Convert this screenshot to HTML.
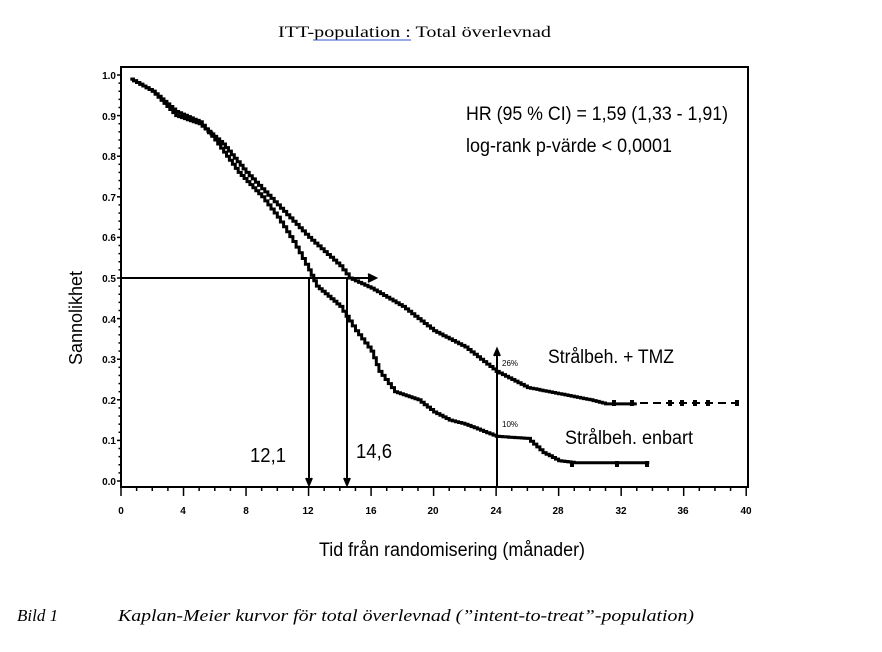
<!DOCTYPE html>
<html><head><meta charset="utf-8"><style>
body{margin:0;background:#fff;width:882px;height:647px;overflow:hidden}
</style></head><body>
<svg id="s" width="882" height="647" xmlns="http://www.w3.org/2000/svg">
<text x="278" y="37" font-family="Liberation Serif" font-size="16" textLength="273" lengthAdjust="spacingAndGlyphs">ITT-population : Total överlevnad</text>
<line x1="313" y1="40" x2="411" y2="40" stroke="#3355cc" stroke-width="1"/>
<rect x="121" y="67" width="627" height="420" fill="none" stroke="#000" stroke-width="2"/>
<g font-family="Liberation Sans" font-size="10" font-weight="bold" text-anchor="end">
<text x="116" y="79">1.0</text><text x="116" y="120">0.9</text><text x="116" y="160">0.8</text><text x="116" y="201">0.7</text><text x="116" y="241">0.6</text><text x="116" y="282">0.5</text><text x="116" y="323">0.4</text><text x="116" y="363">0.3</text><text x="116" y="404">0.2</text><text x="116" y="444">0.1</text><text x="116" y="485">0.0</text>
</g>
<g id="ticks" stroke="#000" stroke-width="1.5"></g>
<g font-family="Liberation Sans" font-size="10" font-weight="bold" text-anchor="middle">
<text x="121" y="514">0</text><text x="183" y="514">4</text><text x="246" y="514">8</text><text x="308" y="514">12</text><text x="371" y="514">16</text><text x="433" y="514">20</text><text x="496" y="514">24</text><text x="558" y="514">28</text><text x="621" y="514">32</text><text x="683" y="514">36</text><text x="746" y="514">40</text>
</g>
<text x="319" y="556" font-family="Liberation Sans" font-size="19" textLength="266" lengthAdjust="spacingAndGlyphs">Tid från randomisering (månader)</text>
<text transform="translate(82,318) rotate(-90)" font-family="Liberation Sans" font-size="18" text-anchor="middle">Sannolikhet</text>
<text x="466" y="120" font-family="Liberation Sans" font-size="19" textLength="262" lengthAdjust="spacingAndGlyphs">HR (95 % CI) = 1,59 (1,33 - 1,91)</text>
<text x="466" y="152" font-family="Liberation Sans" font-size="19" textLength="206" lengthAdjust="spacingAndGlyphs">log-rank p-värde &lt; 0,0001</text>
<text x="548" y="363" font-family="Liberation Sans" font-size="19" textLength="126" lengthAdjust="spacingAndGlyphs">Strålbeh. + TMZ</text>
<text x="565" y="444" font-family="Liberation Sans" font-size="19" textLength="128" lengthAdjust="spacingAndGlyphs">Strålbeh. enbart</text>
<text x="250" y="462" font-family="Liberation Sans" font-size="20" textLength="36" lengthAdjust="spacingAndGlyphs">12,1</text>
<text x="356" y="458" font-family="Liberation Sans" font-size="20" textLength="36" lengthAdjust="spacingAndGlyphs">14,6</text>
<text x="502" y="366" font-family="Liberation Sans" font-size="8">26%</text>
<text x="502" y="427" font-family="Liberation Sans" font-size="8">10%</text>
<g stroke="#000" stroke-width="2" fill="none">
<line x1="121" y1="278" x2="374" y2="278"/>
<polyline points="368,274 376,278 368,282" fill="#000"/>
<line x1="309" y1="278" x2="309" y2="484"/>
<line x1="347" y1="278" x2="347" y2="484"/>
<line x1="497" y1="350" x2="497" y2="486"/>
<polyline points="494,356 497,349 500,356" fill="#000"/>
<polyline points="344,478 347,485 350,478" fill="#000"/>
<polyline points="306,478 309,485 312,478" fill="#000"/>
</g>
<path id="tmz" stroke="#000" stroke-width="3" fill="none"/>
<polyline points="640,403 739,403" stroke="#000" stroke-dasharray="8,5" stroke-width="2" fill="none"/>
<path id="rt" stroke="#000" stroke-width="3" fill="none"/>
<g fill="#000">
<rect x="612" y="400" width="4" height="6"/><rect x="630" y="400" width="4" height="6"/><rect x="668" y="400" width="4" height="6"/><rect x="680" y="400" width="4" height="6"/><rect x="693" y="400" width="4" height="6"/><rect x="706" y="400" width="4" height="6"/><rect x="735" y="400" width="4" height="6"/>
<rect x="570" y="461" width="4" height="6"/><rect x="615" y="461" width="4" height="6"/><rect x="645" y="461" width="4" height="6"/>
</g>
<text x="17" y="621" font-family="Liberation Serif" font-size="17" font-style="italic">Bild 1</text>
<text x="118" y="621" font-family="Liberation Serif" font-size="17" font-style="italic" textLength="576" lengthAdjust="spacingAndGlyphs">Kaplan-Meier kurvor för total överlevnad (”intent-to-treat”-population)</text>
</svg>
<script>
var X=m=>121+m*15.63, Y=s=>481-s*406;
function build(k,step){var d="M"+X(k[0][0]).toFixed(1)+","+Y(k[0][1]).toFixed(1);
var lastY=Y(k[0][1]);
for(var i=1;i<k.length;i++){var a=k[i-1],b=k[i];var x0=X(a[0]),x1=X(b[0]);var n=Math.max(1,Math.round((x1-x0)/step));
for(var j=1;j<=n;j++){var x=x0+(x1-x0)*j/n;var y=Y(a[1]+(b[1]-a[1])*j/n);d+=" H"+x.toFixed(1)+" V"+y.toFixed(1);}}
return d;}
var tmz=[[0.6,0.99],[2,0.96],[3.5,0.9],[5,0.88],[6.5,0.83],[8,0.76],[10,0.68],[12,0.6],[14,0.53],[14.6,0.5],[16,0.475],[18,0.43],[20,0.37],[22,0.33],[24,0.27],[25,0.25],[26,0.23],[28,0.215],[30,0.2],[31,0.19],[33,0.19]];
var rt=[[0.6,0.99],[2,0.96],[3.5,0.91],[5,0.885],[6,0.84],[7.5,0.76],[9,0.7],[10,0.65],[11,0.59],[12,0.52],[12.5,0.48],[14,0.43],[15,0.37],[16,0.32],[16.5,0.27],[17.5,0.22],[19,0.2],[20,0.17],[21,0.15],[22,0.14],[24,0.11],[26,0.105],[27,0.07],[28,0.05],[29,0.045],[33.8,0.045]];
document.getElementById('tmz').setAttribute('d',build(tmz,3));
document.getElementById('rt').setAttribute('d',build(rt,3));
var t="";for(var i=0;i<=50;i++){var y=481-i*8.12;var w=(i%5==0)?4:2.5;t+='<line x1="'+(121-w)+'" y1="'+y+'" x2="121" y2="'+y+'"/>';}
for(var m=0;m<=40;m++){var x=X(m);var h=(m%4==0)?9:4;t+='<line x1="'+x+'" y1="487" x2="'+x+'" y2="'+(487+h)+'"/>';}
document.getElementById('ticks').innerHTML=t;
</script>
</body></html>
